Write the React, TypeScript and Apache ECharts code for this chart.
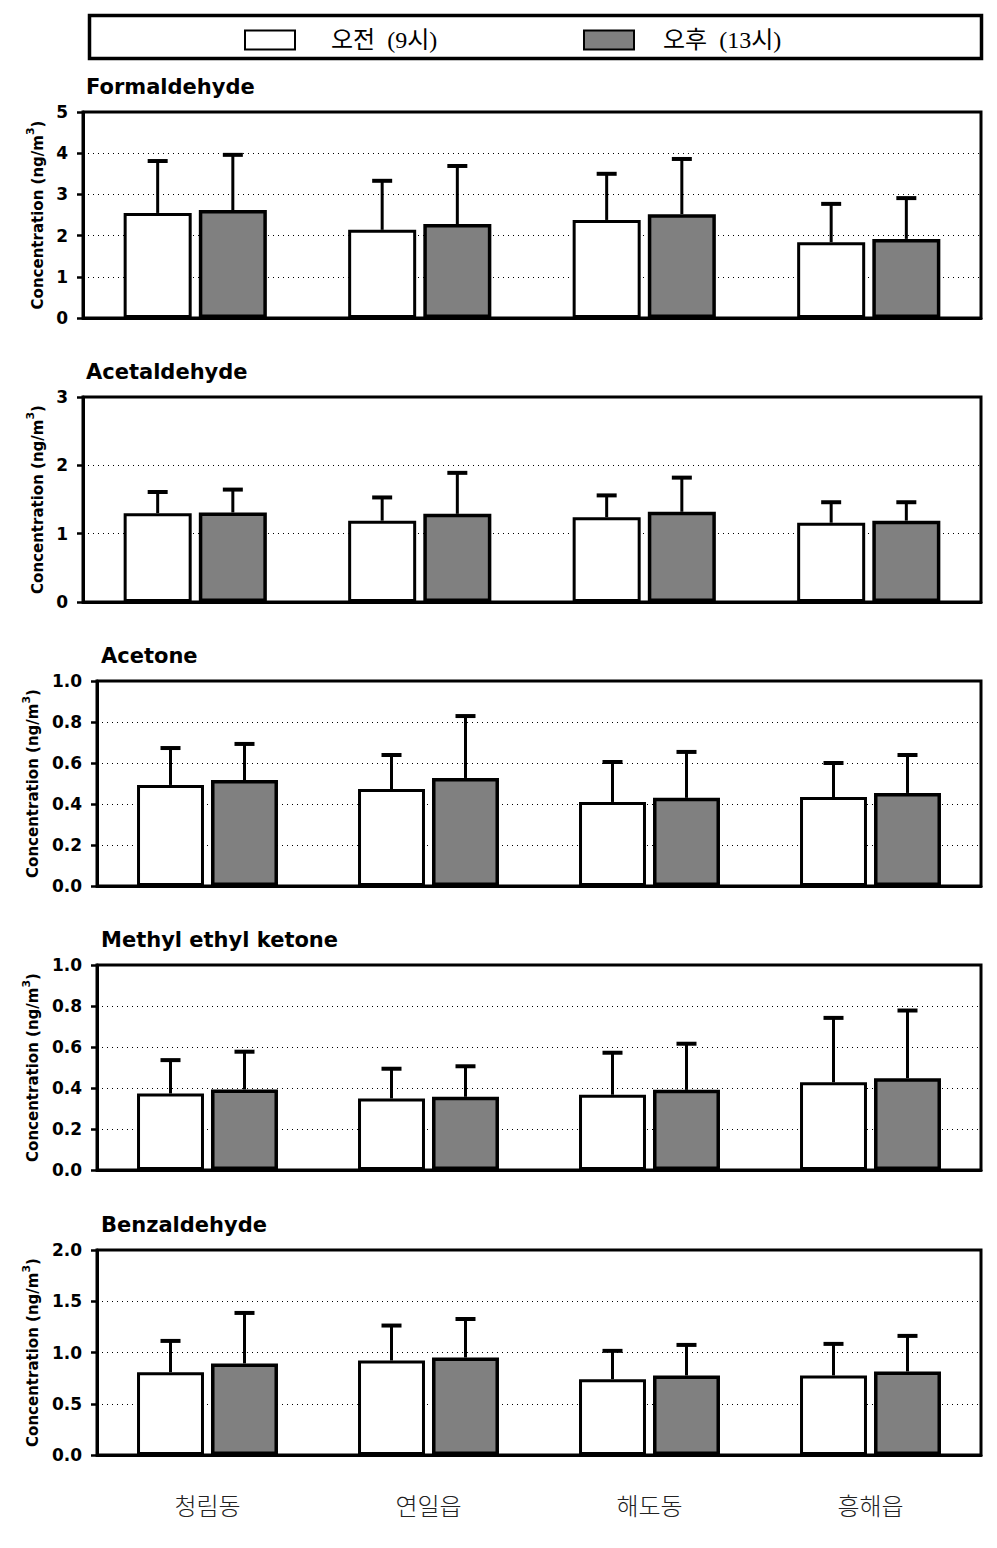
import React, { useEffect, useRef } from "react";
import * as echarts from "echarts";

const categories = ["청림동", "연일읍", "해도동", "흥해읍"];
const legendAm = "오전 (9시)";
const legendPm = "오후 (13시)";

const panelTitles = ["Formaldehyde", "Acetaldehyde", "Acetone", "Methyl ethyl ketone", "Benzaldehyde"];
const yMax = [5, 3, 1, 1, 2];
const yInterval = [1, 1, 0.2, 0.2, 0.5];
const yDecimals = [0, 0, 1, 1, 1];

// means
const formAm = [2.55, 2.14, 2.38, 1.84];
const formPm = [2.62, 2.28, 2.52, 1.92];
const acetalAm = [1.3, 1.19, 1.24, 1.16];
const acetalPm = [1.31, 1.29, 1.32, 1.19];
const acetoneAm = [0.493, 0.473, 0.41, 0.434];
const acetonePm = [0.517, 0.527, 0.43, 0.454];
const mekAm = [0.373, 0.349, 0.367, 0.428];
const mekPm = [0.393, 0.357, 0.391, 0.448];
const benzAm = [0.808, 0.922, 0.74, 0.776];
const benzPm = [0.893, 0.951, 0.776, 0.815];

// standard deviations (upper error bars)
const formAmSd = [1.26, 1.19, 1.12, 0.93];
const formPmSd = [1.34, 1.41, 1.34, 0.99];
const acetalAmSd = [0.31, 0.34, 0.32, 0.3];
const acetalPmSd = [0.335, 0.6, 0.5, 0.27];
const acetoneAmSd = [0.18, 0.166, 0.195, 0.166];
const acetonePmSd = [0.176, 0.302, 0.224, 0.185];
const mekAmSd = [0.163, 0.145, 0.205, 0.314];
const mekPmSd = [0.184, 0.149, 0.225, 0.33];
const benzAmSd = [0.305, 0.341, 0.276, 0.308];
const benzPmSd = [0.493, 0.376, 0.298, 0.347];

const amMeans = [formAm, acetalAm, acetoneAm, mekAm, benzAm];
const pmMeans = [formPm, acetalPm, acetonePm, mekPm, benzPm];
const amSds = [formAmSd, acetalAmSd, acetoneAmSd, mekAmSd, benzAmSd];
const pmSds = [formPmSd, acetalPmSd, acetonePmSd, mekPmSd, benzPmSd];

const gridLefts = [83, 83, 97, 97, 97];
const gridTops = [112, 397, 681, 965, 1250];
const gridHeights = [206, 205, 205, 205, 205];
const titleLefts = [86, 86, 101, 101, 101];
const titleTops = [76, 361, 645, 929, 1214];

const BAR_W = 0.303;
const BAR_GAP = 0.105;

const boldFont = "'DejaVu Sans', sans-serif";

function makeErr(side: number) {
  return function (params: any, api: any) {
    const idx = api.value(0);
    const base = api.coord([idx, api.value(1)]);
    const top = api.coord([idx, api.value(2)]);
    const band = api.size([1, 0])[0];
    const off = (band * BAR_W * (1 + BAR_GAP)) / 2 * side;
    const x = base[0] + off;
    return {
      type: "group",
      children: [
        {
          type: "line",
          shape: { x1: x, y1: base[1], x2: x, y2: top[1] },
          style: { stroke: "#000", lineWidth: 3 },
        },
        {
          type: "line",
          shape: { x1: x - 10, y1: top[1], x2: x + 10, y2: top[1] },
          style: { stroke: "#000", lineWidth: 4 },
        },
      ],
    };
  };
}

export default function App() {
  const ref = useRef<HTMLDivElement>(null);
  useEffect(() => {
    document.body.style.margin = "0";
    const chart = echarts.init(ref.current!, null, { renderer: "svg" });
    const grid: any[] = [];
    const xAxis: any[] = [];
    const yAxis: any[] = [];
    const series: any[] = [];
    const title: any[] = [];
    for (let i = 0; i < 5; i++) {
      grid.push({
        left: gridLefts[i],
        top: gridTops[i],
        right: 16,
        height: gridHeights[i],
        show: true,
        borderColor: "#000",
        borderWidth: 3,
        backgroundColor: "transparent",
      });
      title.push({
        text: panelTitles[i],
        left: titleLefts[i],
        top: titleTops[i],
        padding: 0,
        textStyle: { fontFamily: boldFont, fontWeight: "bold", fontSize: 21, color: "#000" },
      });
      xAxis.push({
        type: "category",
        gridIndex: i,
        data: categories,
        axisTick: { show: false },
        axisLine: { lineStyle: { color: "#000", width: 3 } },
        axisLabel: {
          show: i === 4,
          margin: 37,
          fontFamily: "'Noto Sans CJK KR', sans-serif",
          fontWeight: 300,
          fontSize: 24,
          color: "#222",
        },
      });
      const dec = yDecimals[i];
      yAxis.push({
        type: "value",
        gridIndex: i,
        min: 0,
        max: yMax[i],
        interval: yInterval[i],
        name: "{a|Concentration (ng/m}{s|3}{a|)}",
        nameLocation: "middle",
        nameGap: gridLefts[i] - 47,
        nameTextStyle: {
          fontFamily: boldFont,
          fontWeight: "bold",
          fontSize: 15,
          color: "#000",
          rich: {
            a: { fontFamily: boldFont, fontWeight: "bold", fontSize: 15, color: "#000", lineHeight: 20, verticalAlign: "bottom" },
            s: { fontFamily: boldFont, fontWeight: "bold", fontSize: 11, color: "#000", lineHeight: 20, verticalAlign: "top" },
          },
        },
        axisLine: { show: true, lineStyle: { color: "#000", width: 3 } },
        axisTick: { show: true, length: 6, lineStyle: { color: "#000", width: 2.5 } },
        axisLabel: {
          margin: 15,
          fontFamily: boldFont,
          fontWeight: "bold",
          fontSize: 17,
          color: "#000",
          formatter: (v: number) => v.toFixed(dec),
        },
        splitLine: { show: true, lineStyle: { color: "#000", width: 1, type: [1, 4] } },
      });
      series.push({
        type: "bar",
        name: legendAm,
        xAxisIndex: i,
        yAxisIndex: i,
        data: amMeans[i],
        barWidth: BAR_W * 100 + "%",
        barGap: BAR_GAP * 100 + "%",
        itemStyle: { color: "#ffffff", borderColor: "#000", borderWidth: 3 },
        z: 2,
      });
      series.push({
        type: "bar",
        name: legendPm,
        xAxisIndex: i,
        yAxisIndex: i,
        data: pmMeans[i],
        barWidth: BAR_W * 100 + "%",
        barGap: BAR_GAP * 100 + "%",
        itemStyle: { color: "#808080", borderColor: "#000", borderWidth: 3.5 },
        z: 2,
      });
      series.push({
        type: "custom",
        name: "am-err",
        xAxisIndex: i,
        yAxisIndex: i,
        renderItem: makeErr(-1),
        encode: { x: 0, y: [1, 2] },
        data: categories.map((_, k) => [k, amMeans[i][k], amMeans[i][k] + amSds[i][k]]),
        z: 3,
      });
      series.push({
        type: "custom",
        name: "pm-err",
        xAxisIndex: i,
        yAxisIndex: i,
        renderItem: makeErr(1),
        encode: { x: 0, y: [1, 2] },
        data: categories.map((_, k) => [k, pmMeans[i][k], pmMeans[i][k] + pmSds[i][k]]),
        z: 3,
      });
    }
    const legendText = (pad: number) => ({
      fontFamily: "'Liberation Serif', 'Noto Sans CJK KR', serif",
      fontSize: 24,
      color: "#000",
      padding: [0, 0, 0, pad],
    });
    const spaced = (name: string) => name.replace(" ", "  ");
    chart.setOption({
      animation: false,
      backgroundColor: "#fff",
      title,
      grid,
      xAxis,
      yAxis,
      series,
      legend: [
        {
          data: [legendAm],
          left: 244,
          top: 28,
          itemWidth: 50,
          itemHeight: 19,
          icon: "rect",
          selectedMode: false,
          padding: 0,
          formatter: spaced,
          itemStyle: { borderColor: "#000", borderWidth: 2 },
          textStyle: legendText(31),
        },
        {
          data: [legendPm],
          left: 583,
          top: 28,
          itemWidth: 50,
          itemHeight: 19,
          icon: "rect",
          selectedMode: false,
          padding: 0,
          formatter: spaced,
          itemStyle: { borderColor: "#000", borderWidth: 2 },
          textStyle: legendText(24),
        },
      ],
      graphic: [
        {
          type: "rect",
          shape: { x: 89.5, y: 15.5, width: 892, height: 43 },
          style: { fill: "none", stroke: "#000", lineWidth: 3.5 },
        },
      ],
    });
    return () => chart.dispose();
  }, []);
  return <div ref={ref} style={{ width: 997, height: 1548 }} />;
}
